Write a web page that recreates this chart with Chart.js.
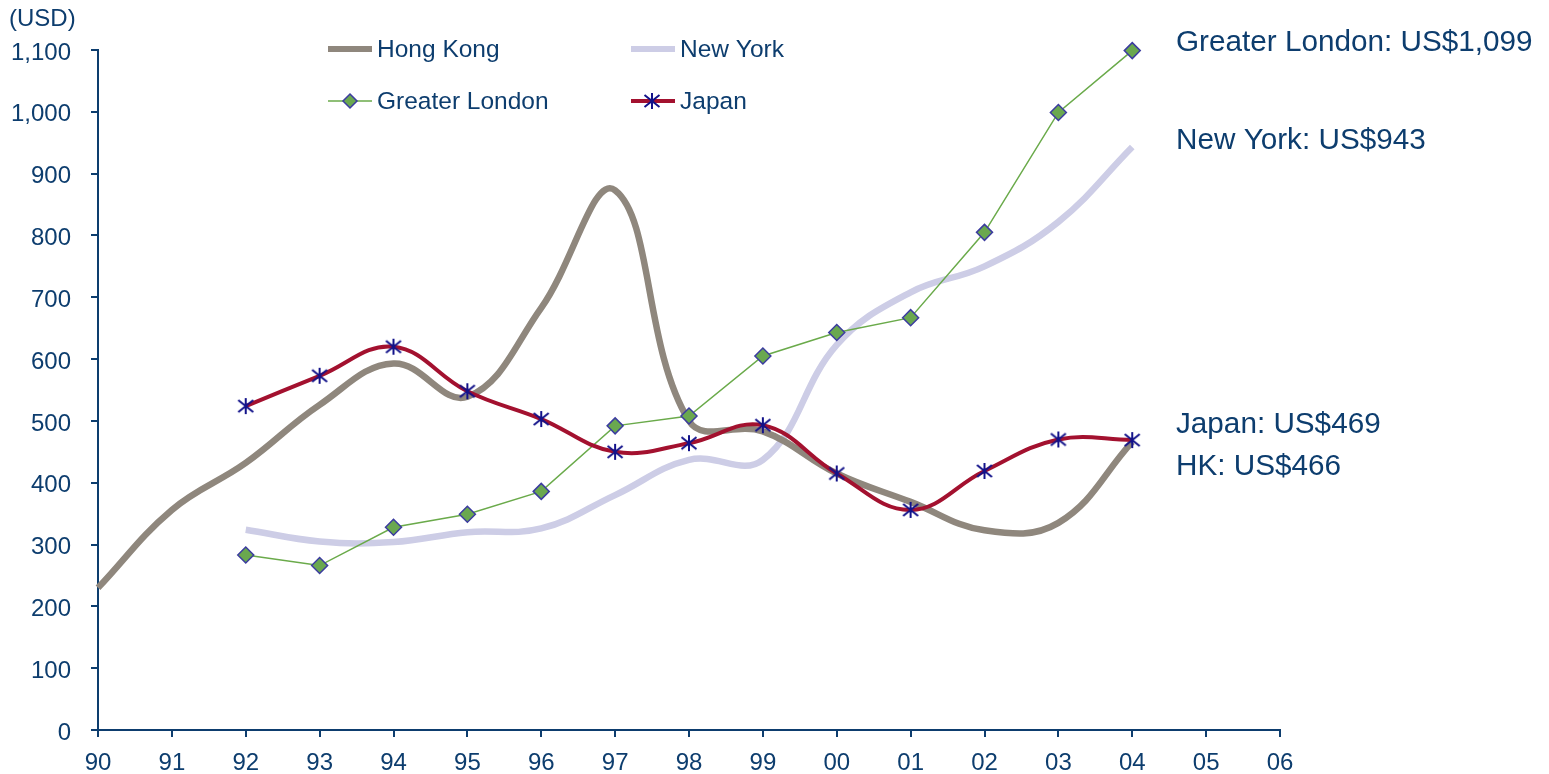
<!DOCTYPE html>
<html>
<head>
<meta charset="utf-8">
<script src="https://cdn.jsdelivr.net/npm/chart.js@4/dist/chart.umd.min.js"></script>
<style>
  html,body{margin:0;padding:0;background:#fff}
  #wrap{width:1549px;height:774px;position:relative}
</style>
</head>
<body>
<div id="wrap"><canvas id="rentChart"></canvas></div>
<script>
// office rents, USD — yearly, 90 .. 06
var years = ['90','91','92','93','94','95','96','97','98','99','00','01','02','03','04','05','06'];
var hongKong = [230,356,432,526,593,539,683,873,500,483,415,369,323,335,466];          // from 90
var newYork  = [324,305,304,320,326,380,437,437,623,708,750,822,943];                  // from 92
var london   = [283,266,328,349,386,492,508,605,643,667,805,999,1099];                 // from 92
var japan    = [524,573,620,548,503,450,464,493,415,356,419,470,469];                  // from 92
var yTicks   = [0,100,200,300,400,500,600,700,800,900,1000,1100];

var NAVY='#0d3d6e', FONT="'Liberation Sans', Arial, Helvetica, sans-serif";
var COL={hk:'#8f877d', ny:'#cdcde6', ldn:'#6aaa4a', ldnPt:'#6aa84f', ldnEdge:'#3c3ca0', jp:'#a3112f', jpPt:'#12128a'};

// pad a series that starts at index `from` out to the full year range
function pad(vals,from){
    var out=[];
    for(var i=0;i<years.length;i++){var k=i-from;out.push(k>=0&&k<vals.length?vals[k]:null)}
    return out;
}
function fmt(v){return v.toLocaleString('en-US')}
function last(a){return a[a.length-1]}

// six-armed asterisk marker (X plus a vertical stroke)
function asterisk(col){
    var c=document.createElement('canvas');c.width=18;c.height=18;
    var g=c.getContext('2d');g.strokeStyle=col;g.lineWidth=2;g.lineCap='butt';
    g.beginPath();
    g.moveTo(1.5,3);g.lineTo(16.5,15);
    g.moveTo(16.5,3);g.lineTo(1.5,15);
    g.moveTo(9,1);g.lineTo(9,17);
    g.stroke();
    return c;
}
var star=asterisk(COL.jpPt);

// legend block + unit caption + end-of-line value notes
var notes={
    id:'notes',
    afterDraw:function(chart){
        var ctx=chart.ctx;ctx.save();
        ctx.fillStyle=NAVY;ctx.textBaseline='middle';ctx.textAlign='left';
        ctx.font='24px '+FONT;
        ctx.fillText('(USD)',9,19);

        // legend, two rows by two columns
        ctx.font='24.5px '+FONT;
        function sample(x,y,col,w){ctx.strokeStyle=col;ctx.lineWidth=w;ctx.beginPath();ctx.moveTo(x,y);ctx.lineTo(x+44,y);ctx.stroke()}
        sample(328,49,COL.hk,6);  ctx.fillText('Hong Kong',377,50);
        sample(631,49,COL.ny,6);  ctx.fillText('New York',680,50);
        sample(328,101,COL.ldn,1.5);
        ctx.fillStyle=COL.ldnPt;ctx.strokeStyle=COL.ldnEdge;ctx.lineWidth=1.5;
        ctx.beginPath();ctx.moveTo(350,94);ctx.lineTo(357,101);ctx.lineTo(350,108);ctx.lineTo(343,101);ctx.closePath();ctx.fill();ctx.stroke();
        ctx.fillStyle=NAVY;ctx.fillText('Greater London',377,102);
        sample(631,101,COL.jp,4);
        ctx.drawImage(star,652-9,101-9);
        ctx.fillStyle=NAVY;ctx.fillText('Japan',680,102);

        // latest values
        ctx.font='29.7px '+FONT;
        ctx.fillText('Greater London: US$'+fmt(last(london)),1176,43);
        ctx.fillText('New York: US$'+fmt(last(newYork)),1176,141);
        ctx.fillText('Japan: US$'+fmt(last(japan)),1176,425);
        ctx.fillText('HK: US$'+fmt(last(hongKong)),1176,467);
        ctx.restore();
    }
};

Chart.defaults.font.family=FONT;
Chart.defaults.color=NAVY;

new Chart(document.getElementById('rentChart'),{
    type:'line',
    data:{labels:years,datasets:[
        {label:'Hong Kong',data:pad(hongKong,0),borderColor:COL.hk,borderWidth:6.5,tension:0.4,pointRadius:0,clip:false,order:2},
        {label:'New York',data:pad(newYork,2),borderColor:COL.ny,borderWidth:6.5,tension:0.4,pointRadius:0,clip:false,order:3},
        {label:'Greater London',data:pad(london,2),borderColor:COL.ldn,borderWidth:1.5,tension:0,pointStyle:'rectRot',pointRadius:8,pointBackgroundColor:COL.ldnPt,pointBorderColor:COL.ldnEdge,pointBorderWidth:1.5,clip:false,order:1},
        {label:'Japan',data:pad(japan,2),borderColor:COL.jp,borderWidth:4,tension:0.4,pointStyle:star,pointRadius:9,clip:false,order:0}
    ]},
    options:{
        responsive:true,maintainAspectRatio:false,animation:false,
        layout:{padding:{left:0,top:50,right:269,bottom:0}},
        plugins:{legend:{display:false},tooltip:{enabled:false}},
        scales:{
            x:{
                offset:false,
                afterFit:function(s){s.height=44},
                grid:{drawOnChartArea:false,drawTicks:true,tickLength:7,color:NAVY,lineWidth:2},
                border:{display:true,color:NAVY,width:2},
                ticks:{color:NAVY,font:{size:24},padding:12,maxRotation:0,autoSkip:false}
            },
            y:{
                min:0,max:1100,
                afterFit:function(s){s.width=98},
                afterBuildTicks:function(s){s.ticks=yTicks.map(function(v){return{value:v}})},
                grid:{drawOnChartArea:false,drawTicks:true,tickLength:7,color:NAVY,lineWidth:2},
                border:{display:true,color:NAVY,width:2},
                ticks:{color:NAVY,font:{size:24},padding:20,labelOffset:3,callback:function(v){return fmt(v)}}
            }
        }
    },
    plugins:[notes]
});
</script>
</body>
</html>
